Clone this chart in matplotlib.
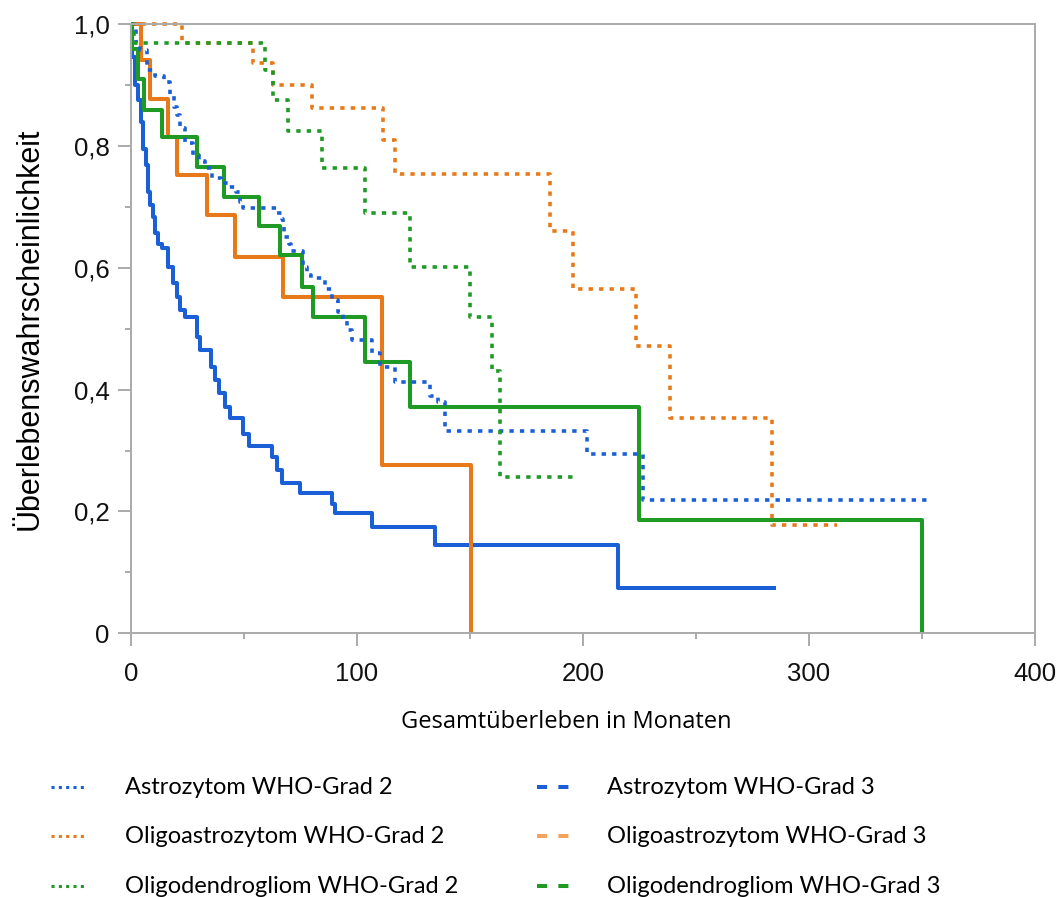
import matplotlib.pyplot as plt
from matplotlib.lines import Line2D
from matplotlib.ticker import MultipleLocator

# Kaplan-Meier-Kurven (Monate / Ueberlebenswahrscheinlichkeit)
astro2_t = [0, 2, 4, 6.9, 10.5, 14.5, 17.3, 19, 20.2, 21.7, 23.9, 27.6, 30, 32.7, 35.7, 40, 43.5,
            46.5, 48.2, 49.7, 64.4, 66.6, 67.3, 67.9, 70.1, 70.9, 76.2, 77.7, 79.5, 85.8, 88.8,
            91.8, 94, 95.5, 97.7, 106.5, 110.2, 116.8, 132.3, 135.9, 138.9, 201.6, 226.7]
astro2_s = [1.0, 0.97, 0.958, 0.925, 0.915, 0.905, 0.884, 0.864, 0.851, 0.829, 0.805, 0.785,
            0.775, 0.764, 0.747, 0.74, 0.733, 0.725, 0.709, 0.698, 0.69, 0.681, 0.668, 0.651,
            0.64, 0.627, 0.602, 0.588, 0.583, 0.566, 0.547, 0.528, 0.512, 0.498, 0.482, 0.46,
            0.438, 0.413, 0.389, 0.38, 0.333, 0.294, 0.219]
astro2_end = 352

oastro2_t = [0, 22.4, 54.1, 63, 80, 111.6, 116.8, 185.4, 195.4, 223.5, 238.5, 283.5]
oastro2_s = [1.0, 0.97, 0.936, 0.901, 0.862, 0.81, 0.755, 0.66, 0.566, 0.471, 0.354, 0.178]
oastro2_end = 312.3

odendro2_t = [0, 1.2, 59.3, 63, 69.6, 84.4, 103.5, 123.5, 150, 159.6, 163.3]
odendro2_s = [1.0, 0.97, 0.925, 0.876, 0.824, 0.764, 0.69, 0.602, 0.52, 0.43, 0.257]
odendro2_end = 196

astro3_t = [0, 0.6, 1.8, 3.2, 4.4, 5.5, 6.5, 7.4, 8.4, 9.9, 10.6, 12.1, 13.6, 16.5, 18.7, 20.2,
            21.7, 23.9, 29.1, 30.5, 35.5, 37.0, 39.0, 41.6, 43.8, 49.7, 52.2, 62.2, 64.4, 66.6,
            74.8, 88.8, 90.3, 106.5, 134.5, 215.6]
astro3_s = [1.0, 0.947, 0.90, 0.876, 0.84, 0.796, 0.769, 0.725, 0.703, 0.684, 0.657, 0.640,
            0.633, 0.602, 0.575, 0.553, 0.531, 0.52, 0.487, 0.465, 0.438, 0.416, 0.394, 0.372,
            0.353, 0.328, 0.307, 0.29, 0.268, 0.246, 0.230, 0.213, 0.197, 0.175, 0.145, 0.074]
astro3_end = 285.4

oastro3_t = [0, 4.3, 8.2, 16.5, 20.2, 33.5, 46, 67.4, 110.9, 150.3]
oastro3_s = [1.0, 0.942, 0.878, 0.815, 0.753, 0.687, 0.618, 0.552, 0.276, 0.0]
oastro3_end = 150.3

odendro3_t = [0, 0.6, 3.2, 5.8, 13.6, 29.4, 41.3, 56.6, 65.9, 75.5, 80.7, 103.5, 123.5, 224.8, 350.1]
odendro3_s = [1.0, 0.96, 0.91, 0.859, 0.815, 0.765, 0.717, 0.668, 0.621, 0.569, 0.52, 0.446,
              0.371, 0.186, 0.0]
odendro3_end = 350.1

labels_g2 = ['Astrozytom WHO-Grad 2', 'Oligoastrozytom WHO-Grad 2', 'Oligodendrogliom WHO-Grad 2']
labels_g3 = ['Astrozytom WHO-Grad 3', 'Oligoastrozytom WHO-Grad 3', 'Oligodendrogliom WHO-Grad 3']
x_ticks = [0, 100, 200, 300, 400]
y_ticks = [0, 0.2, 0.4, 0.6, 0.8, 1.0]
y_ticklabels = ['0', '0,2', '0,4', '0,6', '0,8', '1,0']

blue = '#1a5fd6'
orange = '#e8791a'
green = '#1f9a24'
orange_light = '#f2a35c'
grey = '#aaaaaa'

DOT = (0, (1.2, 1.7))


def km(ax, t, s, end, color, ls, lw):
    x = list(t) + [end]
    y = list(s) + [s[-1]]
    ax.step(x, y, where='post', color=color, linestyle=ls, lw=lw, clip_on=False,
            solid_capstyle='butt', dash_capstyle='butt')


fig = plt.figure(figsize=(10.64, 8.97), dpi=100)
ax = fig.add_axes([131 / 1064, 1 - 633.3 / 897, 904 / 1064, 609 / 897])

# Grad 3 durchgezogen, Grad 2 gepunktet
km(ax, astro3_t, astro3_s, astro3_end, blue, '-', 2.9)
km(ax, oastro3_t, oastro3_s, oastro3_end, orange, '-', 2.9)
km(ax, odendro3_t, odendro3_s, odendro3_end, green, '-', 2.9)
km(ax, astro2_t, astro2_s, astro2_end, blue, DOT, 2.6)
km(ax, oastro2_t, oastro2_s, oastro2_end, orange, DOT, 2.6)
km(ax, odendro2_t, odendro2_s, odendro2_end, green, DOT, 2.6)

ax.set_xlim(0, 400)
ax.set_ylim(0, 1)
ax.set_xticks(x_ticks)
ax.set_yticks(y_ticks)
ax.set_yticklabels(y_ticklabels)
ax.xaxis.set_minor_locator(MultipleLocator(50))
ax.yaxis.set_minor_locator(MultipleLocator(0.1))

for sp in ax.spines.values():
    sp.set_color(grey)
    sp.set_linewidth(1.4)
ax.tick_params(which='major', length=9.5, width=1.4, color=grey, labelsize=18.5,
               labelcolor='#111111')
ax.tick_params(which='minor', length=4.5, width=1.4, color=grey)
ax.tick_params(axis='y', which='major', pad=6)
ax.tick_params(axis='x', which='major', pad=11)
for lab in ax.get_xticklabels() + ax.get_yticklabels():
    lab.set_family('Liberation Sans')

ax.set_ylabel('Überlebenswahrscheinlichkeit', fontsize=22, family='Liberation Sans')
ax.yaxis.set_label_coords(-101 / 904, 0.5)
ax.yaxis.label.set_va('center')
ax.set_xlabel('Gesamtüberleben in Monaten', fontsize=17, family='Open Sans')
ax.xaxis.set_label_coords(0.482, -89 / 609)
ax.xaxis.label.set_va('center')

# Legende von Hand, zwei Spalten
rows_y = [1 - 787 / 897, 1 - 836 / 897, 1 - 886 / 897]
for lab, col, y in zip(labels_g2, [blue, orange, green], rows_y):
    fig.add_artist(Line2D([51 / 1064, 86 / 1064], [y, y], color=col, lw=2.2,
                          linestyle=(0, (1, 1.4)), dash_capstyle='butt'))
    fig.text(125 / 1064, y, lab, fontsize=17, family='Lato', va='center', ha='left')
for lab, col, y in zip(labels_g3, [blue, orange_light, green], rows_y):
    fig.add_artist(Line2D([537 / 1064, 569 / 1064], [y, y], color=col, lw=2.9,
                          linestyle=(0, (2.5, 2.8)), dash_capstyle='butt'))
    fig.text(607 / 1064, y, lab, fontsize=17, family='Lato', va='center', ha='left')

fig.savefig('out.png', dpi=100)
